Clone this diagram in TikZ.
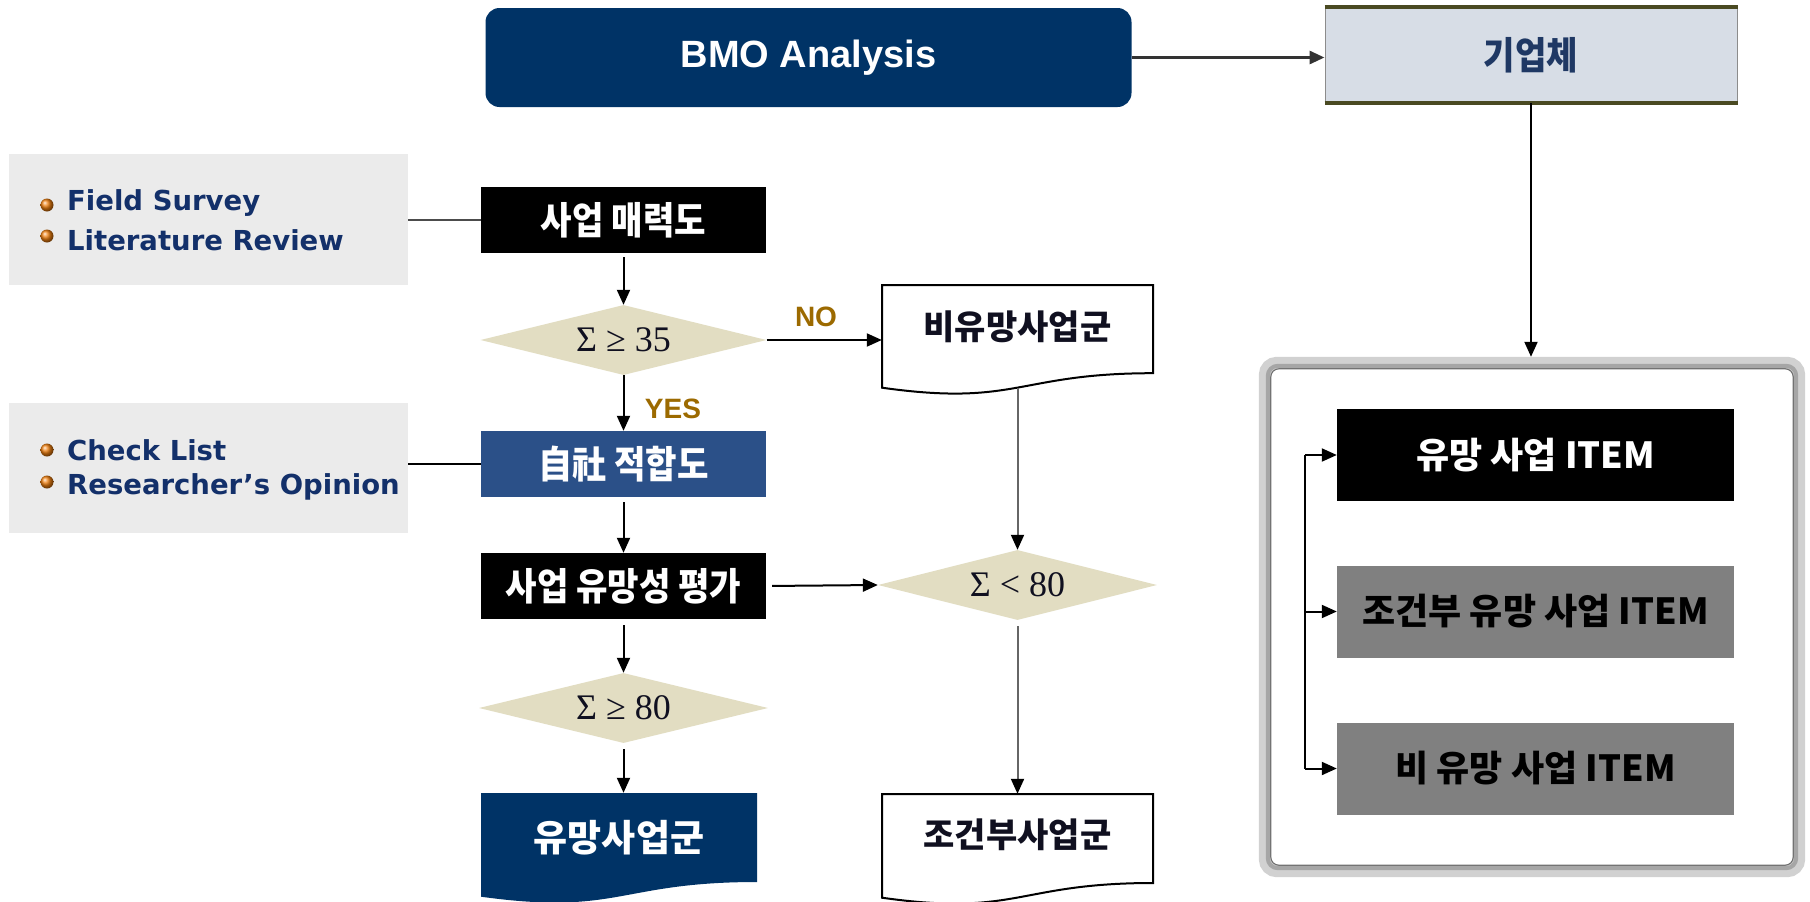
\documentclass[tikz,border=0pt]{standalone}
\usepackage{fontspec}
\setmainfont{Liberation Sans}
\newfontfamily\kr{Noto Sans CJK KR}
\newfontfamily\krc{Noto Sans CJK KR}[FakeStretch=0.9]
\newfontfamily\dvs{DejaVu Sans}
\newfontfamily\srf{Liberation Serif}
\usetikzlibrary{arrows.meta,shapes.geometric,calc}
\newcommand\setfs[1]{\fontsize{#1}{#1}\selectfont}
\definecolor{navy}{HTML}{003366}
\definecolor{jblue}{HTML}{2B5088}
\definecolor{beige}{HTML}{E2DDC2}
\definecolor{qfill}{HTML}{D7DDE6}
\definecolor{olive}{HTML}{4A4A22}
\definecolor{lgray}{HTML}{EBEBEB}
\definecolor{itemgray}{HTML}{808080}
\definecolor{txtnavy}{HTML}{13306A}
\definecolor{qtext}{HTML}{1F3864}
\definecolor{gold}{HTML}{9C6A00}
\definecolor{dtext}{HTML}{101020}
\begin{document}
\begin{tikzpicture}[x=1pt,y=-1pt,
  flowbox/.style={rectangle, minimum width=285pt, minimum height=66pt, inner sep=0pt, text=white, font=\krc\bfseries\setfs{38}},
  dia/.style={diamond, aspect=4, fill=beige, inner sep=0pt, minimum width=286pt, minimum height=70pt, font=\srf\setfs{36}, text=dtext},
  item/.style={rectangle, minimum width=397pt, minimum height=92pt, inner sep=0pt, font=\kr\bfseries\setfs{36}},
  doctext/.style={font=\kr\bfseries\setfs{34}, text=dtext, inner sep=0pt},
  ghost/.style={rectangle, inner sep=0pt, draw=none},
  srcbox/.style={rectangle, fill=lgray, minimum width=399pt, minimum height=131pt, inner sep=0pt},
  srctext/.style={anchor=west, font=\dvs\bfseries\setfs{27.5}, text=txtnavy, inner sep=0pt},
  bul/.style={ball color=orange!75!brown},
  arr/.style={draw=black, line width=2pt, -{Triangle[length=15pt,width=13pt]}},
  garr/.style={draw=black!60, line width=2pt, -{Triangle[length=15pt,width=13pt,color=black]}},
  yn/.style={font=\bfseries\setfs{28}, text=gold, inner sep=0pt}
]
\useasboundingbox (0,0) rectangle (1810,902);
\fill[white] (0,0) rectangle (1810,902);

% top row
\node[rectangle, rounded corners=14pt, fill=navy, minimum width=646pt, minimum height=99pt, inner sep=0pt,
      text=white, font=\bfseries\setfs{38}] (bmo) at (808.5,57.5) {BMO Analysis};
\node[rectangle, fill=qfill, draw=black!45, line width=1pt, minimum width=412pt, minimum height=95pt, inner sep=0pt,
      text=qtext, font=\krc\bfseries\setfs{38}] (qiup) at (1531,55) {기업체};
\draw[olive, line width=4pt] (qiup.north west) -- (qiup.north east);
\draw[olive, line width=4pt] (qiup.south west) -- (qiup.south east);
\draw[arr, line width=3pt, draw=black!80] (bmo.east) -- (bmo.east -| qiup.west);

% outer box on the right
\node[ghost, minimum width=522pt, minimum height=496pt] (outer) at (1532,617) {};
\draw[line width=12pt, black!18, rounded corners=12pt] ($(outer.north west)+(-6,-6)$) rectangle ($(outer.south east)+(6,6)$);
\draw[line width=4pt, black!35, rounded corners=10pt] ($(outer.north west)+(-3,-3)$) rectangle ($(outer.south east)+(3,3)$);
\fill[white, rounded corners=8pt] (outer.north west) rectangle (outer.south east);
\draw[line width=1.2pt, black!55, rounded corners=8pt] (outer.north west) rectangle (outer.south east);
\draw[arr, shorten >=12pt] (qiup.south) -- (qiup.south |- outer.north);

\node[item, fill=black, text=white] (it1) at (1535.5,455) {유망 사업 ITEM};
\node[item, fill=itemgray, text=black] (it2) at (1535.5,611.5) {조건부 유망 사업 ITEM};
\node[item, fill=itemgray, text=black] (it3) at (1535.5,768.5) {비 유망 사업 ITEM};
\coordinate (brk) at (1305,455);
\draw[line width=2pt] (it1.west -| brk) -- (it3.west -| brk);
\draw[arr] (it1.west -| brk) -- (it1.west);
\draw[arr] (it2.west -| brk) -- (it2.west);
\draw[arr] (it3.west -| brk) -- (it3.west);

% left source boxes
\node[srcbox] (gb1) at (208.5,219.5) {};
\node[srcbox, minimum height=130pt] (gb2) at (208.5,468) {};
\shade[bul] (47,205) circle (6.5);
\shade[bul] (47,236) circle (6.5);
\node[srctext] (fs) at (67,203) {Field Survey};
\node[srctext] (lr) at (67,240) {Literature Review};
\shade[bul] (47,450) circle (6.5);
\shade[bul] (47,482) circle (6.5);
\node[srctext] (cl) at (67,450) {Check List};
\node[srctext] (ro) at (67,487) {Researcher’s Opinion};

% main flow column
\node[flowbox, fill=black] (attr) at (623.5,220) {사업 매력도};
\node[dia] (d35) at (623.5,340) {Σ ≥ 35};
\node[flowbox, fill=jblue] (jasa) at (623.5,464) {自社 적합도};
\node[flowbox, fill=black] (eval) at (623.5,586) {사업 유망성 평가};
\node[dia, minimum width=289pt] (d80) at (623.5,708) {Σ ≥ 80};

\draw[black!70, line width=1.5pt] (gb1.east |- attr.west) -- (attr.west);
\draw[black, line width=2.5pt] (gb2.east |- jasa.west) -- (jasa.west);

% document shapes
\fill[navy] (481,793) -- (757,793) -- (757,882) .. controls (619,882) and (619,915.8) .. (481,896.7) -- cycle;
\node[ghost, minimum width=276pt, minimum height=104pt] (prom) at (619,845) {};
\node[doctext, text=white, font=\kr\bfseries\setfs{37}] (promt) at (619,838) {유망사업군};

\draw[black, line width=2pt, fill=white] (882,285) -- (1153,285) -- (1153,373.2) .. controls (1017.5,373.2) and (1017.5,406.8) .. (882,387.7) -- cycle;
\node[ghost, minimum width=271pt, minimum height=103pt] (nonp) at (1017.5,336.5) {};
\node[doctext] (nonpt) at (1017.5,327) {비유망사업군};

\draw[black, line width=2pt, fill=white] (882,794) -- (1153,794) -- (1153,883) .. controls (1017.5,883) and (1017.5,916.9) .. (882,897.7) -- cycle;
\node[ghost, minimum width=271pt, minimum height=104pt] (condp) at (1017.5,846) {};
\node[doctext] (condpt) at (1017.5,835) {조건부사업군};

\node[dia, minimum width=279pt] (dlt) at (1017.5,585) {Σ < 80};

% connectors
\draw[arr, shorten <=4pt] (attr.south) -- (d35.north);
\draw[arr] (d35.south) -- (jasa.north);
\draw[arr, shorten <=5pt] (jasa.south) -- (eval.north);
\draw[arr, shorten <=6pt] (eval.south) -- (d80.north);
\draw[arr, shorten <=6pt] (d80.south) -- (d80.south |- prom.north);
\draw[arr] (d35.east) -- (d35.east -| nonp.west);
\draw[arr, shorten <=6pt] (eval.east) -- (dlt.west);
\draw[garr] (nonp.south) -- (dlt.north);
\draw[garr, shorten <=6pt] (dlt.south) -- (condp.north);

\node[yn] (no) at (816,317) {NO};
\node[yn] (yes) at (673,409) {YES};
\end{tikzpicture}
\end{document}
